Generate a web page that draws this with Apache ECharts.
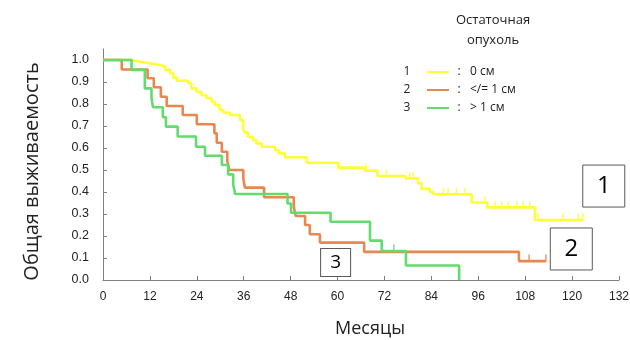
<!DOCTYPE html>
<html>
<head>
<meta charset="utf-8">
<script src="https://cdn.jsdelivr.net/npm/echarts@6/dist/echarts.min.js"></script>
<style>html,body{margin:0;padding:0;background:#fff}#c{width:630px;height:340px}</style>
</head>
<body>
<div id="c"></div>
<script>
// ---- Data (months, survival probability) ----
var group1 = [[0,1.0],[7.3,0.992],[9.5,0.985],[12,0.977],[14.6,0.970],[15.9,0.955],[17.2,0.940],[18,0.920],[18.9,0.906],[21.8,0.895],[22.6,0.871],[23.9,0.856],[25.2,0.840],[26.5,0.826],[27.8,0.810],[28.6,0.795],[29.8,0.773],[30.8,0.760],[32.5,0.750],[35,0.727],[35.8,0.690],[36.3,0.670],[37.1,0.650],[38.4,0.636],[39.2,0.621],[40.6,0.606],[44,0.591],[44.9,0.576],[46.5,0.558],[52.1,0.533],[60.2,0.511],[67,0.497],[70.2,0.473],[77.4,0.462],[80.6,0.440],[81.5,0.414],[83.6,0.400],[84.5,0.390],[94.3,0.352],[98.3,0.330],[110.5,0.273],[122.8,0.273]];
var group2 = [[0,1.0],[4.8,0.957],[11.4,0.917],[13,0.876],[14.8,0.833],[16.3,0.791],[20.4,0.750],[24,0.708],[28.5,0.667],[29.1,0.624],[30.4,0.583],[31.8,0.542],[32.3,0.500],[35.9,0.459],[36.3,0.420],[41.2,0.376],[48.8,0.333],[49.3,0.291],[51.7,0.250],[52.9,0.208],[55.5,0.170],[66.8,0.128],[106.4,0.086],[113.3,0.086]];
var group3 = [[0,1.0],[7.3,0.955],[10.7,0.871],[12.4,0.826],[12.8,0.785],[15.3,0.740],[16.1,0.697],[19.1,0.652],[23.8,0.606],[26.1,0.565],[30.4,0.523],[32,0.480],[33.3,0.435],[33.8,0.391],[47.2,0.348],[48.1,0.306],[58.2,0.265],[68.3,0.179],[71.3,0.132],[77.5,0.066],[91.1,0.0]];
var censor1 = [[67.3,0.497],[72.5,0.473],[78.5,0.462],[79.4,0.462],[87,0.390],[88.3,0.390],[90.4,0.390],[92.6,0.390],[97.8,0.352],[100.3,0.330],[102,0.330],[103.7,0.330],[105.8,0.330],[107.5,0.330],[109.2,0.330],[111.3,0.273],[117.7,0.273],[121.6,0.273],[122.8,0.273]];
var censor2 = [[109,0.086],[113.3,0.086]];
var censor3 = [[74.4,0.132]];
var groupNames = ['1','2','3'];
var legendTexts = ['0 см','</= 1 см','> 1 см'];
var curveLabels = [[128.1,0.427,'1'],[119.8,0.141,'2'],[59.5,0.08,'3']];
var xTicks = [0,12,24,36,48,60,72,84,96,108,120,132];
var yTicks = [0,0.1,0.2,0.3,0.4,0.5,0.6,0.7,0.8,0.9,1.0];
var colors = ['#ffff33','#e8874e','#62dc6e'];

var chart = echarts.init(document.getElementById('c'), null, {renderer:'canvas'});
var curves = [group1, group2, group3];
var censors = [censor1, censor2, censor3];
var boxSizes = [[42,42],[42,42],[30,28]];
var boxFont = [24,24,19];
var series = [];
curves.forEach(function(d,i){
  series.push({
    type:'line', name:groupNames[i], data:d, step:'end', showSymbol:false,
    lineStyle:{color:colors[i], width:2.6}, itemStyle:{color:colors[i]},
    z: 2+i, animation:false, silent:true,
    markPoint:{
      symbol:'rect', symbolSize:boxSizes[i], silent:true,
      itemStyle:{color:'#fff', borderColor:'#5a5a5a', borderWidth:1},
      label:{show:true, formatter:curveLabels[i][2], color:'#000', fontSize:boxFont[i], fontFamily:'Open Sans'},
      data:[{coord:[curveLabels[i][0], curveLabels[i][1]]}]
    }
  });
});
censors.forEach(function(d,i){
  series.push({
    type:'scatter', data:d, symbol:'rect', symbolSize:[1.6,7], symbolOffset:[0,-3],
    itemStyle:{color:colors[i]}, z:2+i, animation:false, silent:true
  });
});

var graphics = [
  {type:'text', style:{text:'Остаточная', x:493, y:20, align:'center', verticalAlign:'middle', fontSize:13, fontFamily:'Open Sans', fill:'#222'}},
  {type:'text', style:{text:'опухоль', x:493, y:40, align:'center', verticalAlign:'middle', fontSize:13, fontFamily:'Open Sans', fill:'#222'}}
];
groupNames.forEach(function(n,i){
  var y = 72 + i*18;
  graphics.push({type:'text', style:{text:n, x:407, y:y, align:'center', verticalAlign:'middle', fontSize:12, fontFamily:'Open Sans', fill:'#222'}});
  graphics.push({type:'line', shape:{x1:427, y1:y, x2:449, y2:y}, style:{stroke:colors[i], lineWidth:2}});
  graphics.push({type:'text', style:{text:':', x:459, y:y, align:'center', verticalAlign:'middle', fontSize:12, fontFamily:'Open Sans', fill:'#222'}});
  graphics.push({type:'text', style:{text:legendTexts[i], x:470, y:y, align:'left', verticalAlign:'middle', fontSize:12, fontFamily:'Open Sans', fill:'#222'}});
});

chart.setOption({
  animation:false,
  backgroundColor:'#fff',
  grid:{left:103, right:11, top:49, bottom:60, containLabel:false, outerBoundsMode:'none'},
  xAxis:{
    type:'value', min:0, max:132, interval:12,
    name:'Месяцы', nameLocation:'middle', nameGap:40,
    nameTextStyle:{fontSize:18, fontFamily:'Open Sans', color:'#222', padding:[0,0,0,18]},
    axisLine:{show:true, lineStyle:{color:'#808080', width:1}},
    axisTick:{show:true, inside:true, length:4, lineStyle:{color:'#808080'}, customValues:xTicks},
    axisLabel:{fontSize:12, fontFamily:'Liberation Sans', color:'#222', margin:11, customValues:xTicks},
    splitLine:{show:false}
  },
  yAxis:{
    type:'value', min:0, max:1.05, interval:0.1,
    name:'Общая выживаемость', nameLocation:'middle', nameGap:61, nameRotate:90,
    nameTextStyle:{fontSize:20, fontFamily:'Open Sans', color:'#222', padding:[0,0,0,-14]},
    axisLine:{show:true, lineStyle:{color:'#808080', width:1}},
    axisTick:{show:true, inside:true, length:4, lineStyle:{color:'#808080'}, customValues:yTicks},
    axisLabel:{fontSize:12.5, fontFamily:'Liberation Sans', color:'#222', margin:14, customValues:yTicks,
      formatter:function(v){return v.toFixed(1);}},
    splitLine:{show:false}
  },
  graphic:graphics,
  series:series
});
</script>
</body>
</html>
